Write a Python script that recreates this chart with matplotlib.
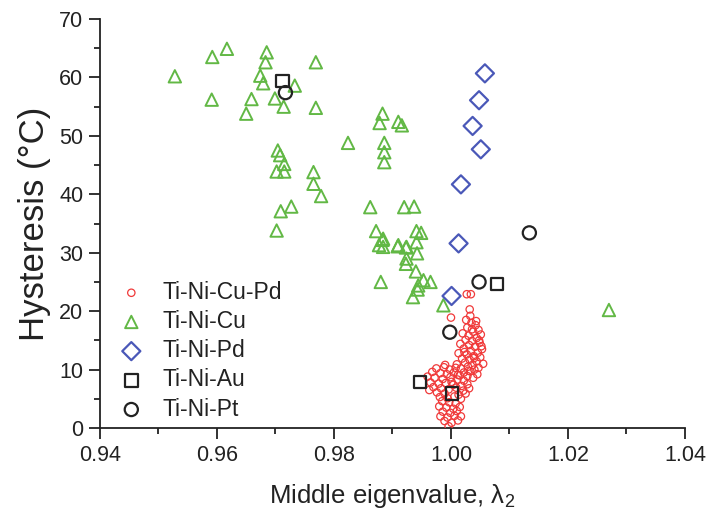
import numpy as np
import matplotlib.pyplot as plt
from matplotlib.ticker import MultipleLocator

plt.rcParams["font.family"] = ["Liberation Sans", "DejaVu Sans"]
plt.rcParams["mathtext.fontset"] = "custom"
plt.rcParams["mathtext.rm"] = "Liberation Sans"
plt.rcParams["mathtext.it"] = "Liberation Sans:italic"

# Ti-Ni-Cu-Pd (dense cluster near lambda2 = 1)
cupd_x = [1.0027, 1.0034, 1.0032, 1.0000, 1.0033,
          1.0035, 1.0042, 1.0028, 1.0047, 1.0038, 1.0020, 1.0051, 1.0030, 1.0044, 1.0025,
          1.0036, 1.0049, 1.0016, 1.0031, 1.0041, 1.0022, 1.0053, 1.0034, 1.0046, 1.0013,
          1.0027, 1.0039, 1.0050, 1.0019, 1.0032, 1.0044, 1.0024, 1.0055, 1.0010, 1.0037,
          1.0029, 1.0047, 1.0017, 1.0040, 1.0033, 1.0022, 1.0045, 1.0012, 1.0028, 1.0038,
          1.0052, 1.0043, 1.0026, 1.0048, 1.0036, 1.0023, 1.0040, 1.0030,
          0.9975, 0.9988, 0.9998, 1.0008, 0.9968, 0.9982, 0.9993, 1.0005, 1.0015, 0.9960,
          0.9972, 0.9986, 0.9999, 1.0011, 1.0022, 0.9965, 0.9979, 0.9991, 1.0004, 1.0018,
          1.0028, 0.9970, 0.9983, 0.9996, 1.0009, 1.0021, 0.9976, 0.9989, 1.0013, 1.0025,
          0.9981, 0.9994, 1.0006, 1.0017, 0.9963, 1.0031, 0.9990, 1.0001,
          0.9985, 0.9997, 1.0008, 0.9980, 0.9992, 1.0004, 1.0015, 0.9986, 0.9999, 1.0010,
          0.9982, 0.9994, 1.0006, 1.0017, 0.9989, 1.0001, 0.9996, 1.0012]
cupd_y = [22.9, 22.9, 20.3, 18.9, 19.2,
          18.0, 17.6, 17.2, 16.8, 16.5, 16.2, 16.0, 15.8, 15.4, 15.1,
          14.9, 14.6, 14.4, 14.2, 13.9, 13.6, 13.5, 13.2, 12.9, 12.8,
          12.6, 12.3, 12.1, 11.9, 11.7, 11.4, 11.2, 11.0, 10.9, 10.8,
          10.5, 10.3, 10.2, 10.0, 9.7, 9.5, 9.2, 9.1, 8.9, 8.6,
          14.0, 18.3, 18.5, 15.0, 16.9, 13.0, 12.0, 9.8,
          10.2, 10.4, 10.0, 10.3, 9.6, 9.4, 9.2, 9.5, 9.0, 8.8,
          8.6, 8.4, 8.7, 8.3, 8.1, 7.8, 7.6, 7.7, 7.4, 7.2,
          7.5, 7.0, 6.8, 6.6, 6.9, 6.4, 6.1, 5.9, 5.7, 5.9,
          5.3, 5.1, 5.4, 5.0, 6.5, 6.8, 10.8, 7.9,
          4.6, 4.4, 4.2, 3.7, 3.5, 3.3, 3.6, 2.8, 2.6, 2.9,
          2.0, 1.8, 2.1, 2.0, 1.2, 0.9, 0.3, 1.3]

# Ti-Ni-Cu
cu_x = [0.9528, 0.9592, 0.9617, 0.9591, 0.9659, 0.9650, 0.9685, 0.9683, 0.9674, 0.9679,
        0.9733, 0.9699, 0.9714, 0.9769, 0.9769, 0.9824, 0.9704, 0.9708, 0.9715, 0.9702,
        0.9715, 0.9765, 0.9765, 0.9778, 0.9709, 0.9727, 0.9702,
        0.9883, 0.9878, 0.9910, 0.9916, 0.9886, 0.9886, 0.9886, 0.9862, 0.9920, 0.9937,
        0.9872, 0.9883, 0.9877, 0.9941, 0.9949, 0.9941, 0.9910, 0.9924, 0.9942, 0.9924,
        0.9884, 0.9884, 0.9909, 0.9923, 0.9923, 0.9940, 0.9953, 0.9965, 0.9944, 0.9943,
        0.9935, 0.9880, 0.9987, 1.0270]
cu_y = [60.2, 63.5, 64.9, 56.2, 56.3, 53.8, 64.3, 62.6, 60.3, 59.0,
        58.6, 56.4, 55.0, 62.6, 54.8, 48.8, 47.5, 46.7, 45.2, 43.9,
        43.9, 43.8, 41.8, 39.7, 37.1, 37.9, 33.8,
        53.8, 52.2, 52.4, 51.8, 48.8, 47.2, 45.5, 37.8, 37.8, 37.9,
        33.7, 32.2, 31.3, 33.7, 33.4, 31.8, 31.3, 31.0, 29.9, 29.0,
        32.4, 31.0, 31.1, 30.9, 28.1, 26.8, 25.3, 25.0, 24.4, 23.7,
        22.4, 25.0, 21.0, 20.2]

# Ti-Ni-Pd
pd_x = [1.0058, 1.0048, 1.0037, 1.0051, 1.0017, 1.0013, 1.0001]
pd_y = [60.7, 56.1, 51.7, 47.7, 41.7, 31.6, 22.6]

# Ti-Ni-Au
au_x = [0.9712, 1.0079, 0.9947, 1.0002]
au_y = [59.4, 24.6, 7.9, 5.9]

# Ti-Ni-Pt
pt_x = [0.9717, 1.0134, 1.0048, 0.9998]
pt_y = [57.4, 33.4, 25.0, 16.4]

fig = plt.figure(figsize=(7.11, 5.18), dpi=100)
ax = fig.add_axes([0.1406, 0.1737, 0.8228, 0.7896])

ax.scatter(cupd_x, cupd_y, s=28, marker="o", facecolors="none",
           edgecolors="#f03a3a", linewidths=0.9, label="Ti-Ni-Cu-Pd", zorder=3)
ax.scatter(cu_x, cu_y, s=80, marker="^", facecolors="none",
           edgecolors="#62b845", linewidths=1.4, label="Ti-Ni-Cu", zorder=3)
ax.scatter(pd_x, pd_y, s=85, marker="D", facecolors="none",
           edgecolors="#4a58b8", linewidths=1.6, label="Ti-Ni-Pd", zorder=3)
ax.scatter(au_x, au_y, s=80, marker="s", facecolors="none",
           edgecolors="#222222", linewidths=1.6, label="Ti-Ni-Au", zorder=4)
ax.scatter(pt_x, pt_y, s=90, marker="o", facecolors="none",
           edgecolors="#222222", linewidths=1.6, label="Ti-Ni-Pt", zorder=4)

ax.set_xlim(0.94, 1.04)
ax.set_ylim(0, 70)
ax.xaxis.set_major_locator(MultipleLocator(0.02))
ax.xaxis.set_minor_locator(MultipleLocator(0.01))
ax.yaxis.set_major_locator(MultipleLocator(10))
ax.yaxis.set_minor_locator(MultipleLocator(5))
ax.xaxis.set_ticks([0.94, 0.96, 0.98, 1.00, 1.02, 1.04])
ax.set_xticklabels(["0.94", "0.96", "0.98", "1.00", "1.02", "1.04"])

for side in ["top", "right"]:
    ax.spines[side].set_visible(False)
for side in ["left", "bottom"]:
    ax.spines[side].set_linewidth(1.3)
    ax.spines[side].set_color("#222222")

ax.tick_params(which="major", direction="out", length=8, width=1.3,
               labelsize=15.5, colors="#222222", pad=4)
ax.tick_params(which="minor", direction="out", length=4.5, width=1.3, colors="#222222")

ax.set_xlabel("Middle eigenvalue, λ$_2$", fontsize=18.5, color="#222222", labelpad=12)
ax.set_ylabel("Hysteresis (°C)", fontsize=25, color="#222222", labelpad=6)

leg = ax.legend(loc="upper left", bbox_to_anchor=(0.034, 0.36), frameon=False,
                fontsize=16.5, handlelength=1.0, handletextpad=0.85,
                labelspacing=0.27, borderpad=0, borderaxespad=0,
                scatterpoints=1)
for t in leg.get_texts():
    t.set_color("#222222")

plt.savefig("out.png", dpi=100)
